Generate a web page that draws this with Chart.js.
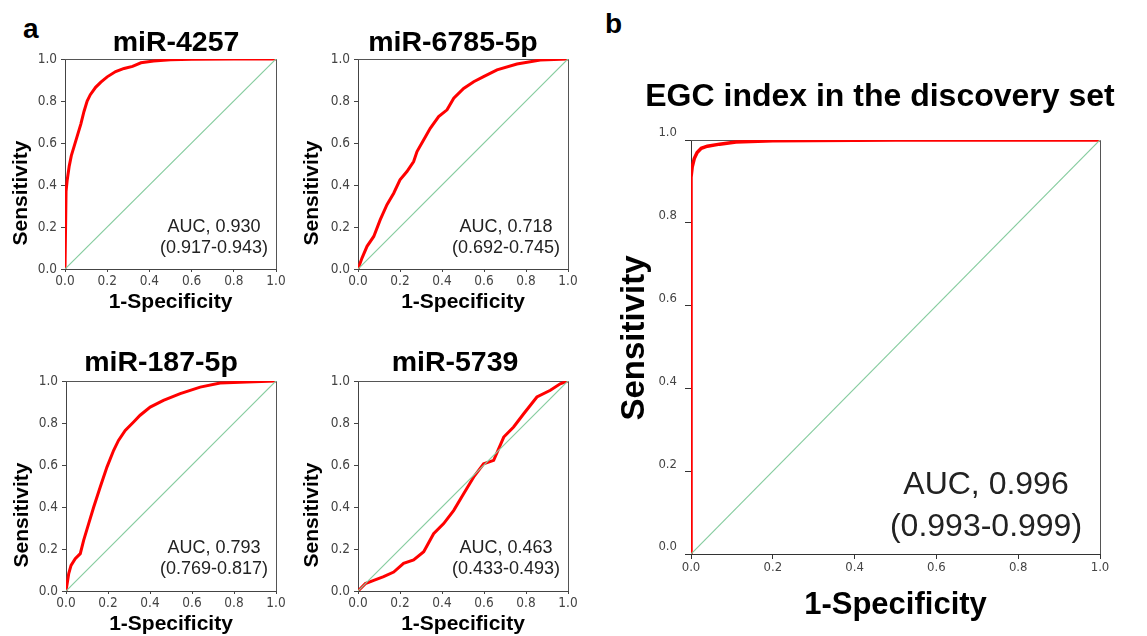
<!DOCTYPE html>
<html>
<head>
<meta charset="utf-8">
<script src="https://cdn.jsdelivr.net/npm/chart.js@4.4.1/dist/chart.umd.min.js"></script>
<style>
  body { margin: 0; background: #fff; width: 1147px; height: 636px; position: relative; overflow: hidden; }
  canvas { position: absolute; }
  .tag { position: absolute; font: bold 28px "Liberation Sans", Arial, sans-serif; color: #000; line-height: 1; }
</style>
</head>
<body>
<div class="tag" style="left:23px;top:15px">a</div>
<div class="tag" style="left:605px;top:10px">b</div>
<canvas id="c4257" width="290" height="318" style="left:0;top:0"></canvas>
<canvas id="c6785" width="290" height="318" style="left:290px;top:0"></canvas>
<canvas id="c187" width="290" height="318" style="left:0;top:318px"></canvas>
<canvas id="c5739" width="290" height="318" style="left:290px;top:318px"></canvas>
<canvas id="cEGC" width="547" height="636" style="left:600px;top:0"></canvas>
<script>
// ROC curves (1-specificity, sensitivity)
const fpr4257 = [0, 0.005, 0.01, 0.02, 0.03, 0.045, 0.06, 0.075, 0.09, 0.105, 0.12, 0.145, 0.17, 0.2, 0.24, 0.28, 0.32, 0.36, 0.42, 0.5, 0.6, 0.8, 1.0];
const tpr4257 = [0, 0.37, 0.42, 0.49, 0.54, 0.59, 0.64, 0.69, 0.75, 0.8, 0.83, 0.865, 0.89, 0.915, 0.94, 0.955, 0.965, 0.982, 0.99, 0.996, 0.999, 1, 1];

const fpr6785 = [0, 0.019, 0.043, 0.075, 0.106, 0.138, 0.17, 0.2, 0.233, 0.265, 0.281, 0.313, 0.344, 0.384, 0.424, 0.456, 0.503, 0.551, 0.598, 0.662, 0.757, 0.868, 1.0];
const tpr6785 = [0, 0.052, 0.108, 0.155, 0.235, 0.306, 0.361, 0.425, 0.464, 0.512, 0.559, 0.615, 0.67, 0.726, 0.758, 0.813, 0.86, 0.892, 0.916, 0.948, 0.976, 0.995, 1.0];

const fpr187 = [0, 0.013, 0.024, 0.044, 0.068, 0.084, 0.108, 0.132, 0.163, 0.195, 0.227, 0.25, 0.282, 0.322, 0.353, 0.401, 0.464, 0.544, 0.639, 0.734, 0.861, 1.0];
const tpr187 = [0, 0.083, 0.122, 0.154, 0.178, 0.241, 0.321, 0.4, 0.495, 0.59, 0.67, 0.717, 0.765, 0.805, 0.837, 0.876, 0.908, 0.94, 0.971, 0.99, 0.995, 1.0];

const fpr5739 = [0, 0.035, 0.075, 0.122, 0.17, 0.217, 0.265, 0.313, 0.36, 0.408, 0.456, 0.503, 0.551, 0.598, 0.646, 0.694, 0.741, 0.789, 0.852, 0.916, 0.963, 1.0];
const tpr5739 = [0, 0.035, 0.051, 0.068, 0.09, 0.132, 0.148, 0.187, 0.273, 0.321, 0.384, 0.463, 0.543, 0.606, 0.622, 0.733, 0.781, 0.844, 0.924, 0.956, 0.987, 1.0];

const fprEGC = [0, 0, 0.003, 0.008, 0.015, 0.025, 0.04, 0.07, 0.11, 0.2, 0.5, 1.0];
const tprEGC = [0, 0.91, 0.935, 0.955, 0.97, 0.98, 0.985, 0.99, 0.995, 0.998, 1, 1];

const refLine = [0, 1];
const axisTicks = ['0.0', '0.2', '0.4', '0.6', '0.8', '1.0'];

const SANS = '"Liberation Sans", Arial, sans-serif';
const NARROW = '"Liberation Sans Narrow", "DejaVu Sans Condensed", "Liberation Sans", sans-serif';

// box lines on top and right side of the plot
const frame = {
  id: 'frame',
  beforeDatasetsDraw(chart) {
    const { ctx, chartArea: a } = chart;
    ctx.save();
    ctx.strokeStyle = '#555';
    ctx.lineWidth = 1;
    ctx.beginPath();
    ctx.moveTo(a.left, a.top + 0.5);
    ctx.lineTo(a.right + 0.5, a.top + 0.5);
    ctx.lineTo(a.right + 0.5, a.bottom);
    ctx.stroke();
    ctx.restore();
  }
};

// panel title, rotated y title and AUC note
const panelText = {
  id: 'panelText',
  afterDraw(chart, args, o) {
    const ctx = chart.ctx;
    ctx.save();
    ctx.textAlign = 'center';
    ctx.textBaseline = 'middle';
    ctx.fillStyle = '#000';
    ctx.font = 'bold ' + o.titleSize + 'px ' + SANS;
    ctx.fillText(o.title, o.titleX, o.titleY);
    ctx.save();
    ctx.translate(o.yTitleX, o.yTitleY);
    ctx.rotate(-Math.PI / 2);
    ctx.font = 'bold ' + o.yTitleSize + 'px ' + SANS;
    ctx.fillText('Sensitivity', 0, 0);
    ctx.restore();
    ctx.fillStyle = '#222';
    ctx.font = o.aucSize + 'px ' + SANS;
    o.auc.forEach((t, i) => ctx.fillText(t, o.aucX, o.aucY[i]));
    ctx.restore();
  }
};

function makeRoc(id, xs, ys, p) {
  const pts = xs.map((x, i) => ({ x: x, y: ys[i] }));
  const diag = refLine.map(v => ({ x: v, y: v }));
  const tickFont = { family: NARROW, size: p.tickSize };
  return new Chart(document.getElementById(id), {
    type: 'line',
    data: {
      datasets: [
        { data: diag, borderColor: '#86cc9f', borderWidth: 1.2, pointRadius: 0, tension: 0 },
        { data: pts, borderColor: '#ff0000', borderWidth: p.lineW, pointRadius: 0, tension: 0 }
      ]
    },
    options: {
      responsive: false,
      animation: false,
      layout: { padding: { left: 0, top: p.top, right: p.right, bottom: 0 } },
      plugins: {
        legend: { display: false },
        tooltip: { enabled: false },
        panelText: p.text
      },
      scales: {
        x: {
          type: 'linear', min: 0, max: 1,
          afterFit: s => { s.height = p.xH; },
          border: { color: p.axisColor, width: 1 },
          grid: { drawOnChartArea: false, tickLength: p.xTick, color: p.axisColor },
          ticks: { stepSize: 0.2, padding: 1, color: '#444', font: tickFont, maxRotation: 0,
                   callback: (v, i) => axisTicks[i] },
          title: { display: true, text: '1-Specificity', color: '#000',
                   font: { family: SANS, size: p.xTitleSize, weight: 'bold', lineHeight: 1 },
                   padding: { top: 0, bottom: p.xTitlePad } }
        },
        y: {
          type: 'linear', min: 0, max: 1,
          afterFit: s => { s.width = p.yW; },
          border: { color: p.axisColor, width: 1 },
          grid: { drawOnChartArea: false, tickLength: p.yTick, color: p.axisColor },
          ticks: { stepSize: 0.2, padding: p.yPad, labelOffset: p.yOff, color: '#444', font: tickFont,
                   callback: (v, i) => axisTicks[i] }
        }
      }
    },
    plugins: [frame, panelText]
  });
}

const small = { top: 59, right: 14, xH: 49, yW: 65, lineW: 3, tickSize: 13.5, xTick: 3, yTick: 4, yPad: 4, yOff: 0,
                xTitleSize: 21, xTitlePad: 5, axisColor: '#444' };

makeRoc('c4257', fpr4257, tpr4257, Object.assign({}, small, {
  text: { title: 'miR-4257', titleSize: 28.5, titleX: 176, titleY: 43, yTitleX: 21, yTitleY: 193, yTitleSize: 21,
          auc: ['AUC, 0.930', '(0.917-0.943)'], aucSize: 18, aucX: 214, aucY: [227, 248] }
}));
makeRoc('c6785', fpr6785, tpr6785, Object.assign({}, small, { right: 12, yW: 68,
  text: { title: 'miR-6785-5p', titleSize: 28.5, titleX: 163, titleY: 43, yTitleX: 22, yTitleY: 193, yTitleSize: 21,
          auc: ['AUC, 0.718', '(0.692-0.745)'], aucSize: 18, aucX: 216, aucY: [227, 248] }
}));
makeRoc('c187', fpr187, tpr187, Object.assign({}, small, { top: 63, xH: 45, yW: 66, xTitlePad: 1,
  text: { title: 'miR-187-5p', titleSize: 28.5, titleX: 161, titleY: 45, yTitleX: 22, yTitleY: 197, yTitleSize: 21,
          auc: ['AUC, 0.793', '(0.769-0.817)'], aucSize: 18, aucX: 214, aucY: [230, 251] }
}));
makeRoc('c5739', fpr5739, tpr5739, Object.assign({}, small, { top: 63, right: 12, xH: 45, yW: 68, xTitlePad: 1,
  text: { title: 'miR-5739', titleSize: 28.5, titleX: 165, titleY: 45, yTitleX: 22, yTitleY: 197, yTitleSize: 21,
          auc: ['AUC, 0.463', '(0.433-0.493)'], aucSize: 18, aucX: 216, aucY: [230, 251] }
}));
makeRoc('cEGC', fprEGC, tprEGC, {
  top: 140, right: 47, xH: 82, yW: 91, lineW: 3.5, tickSize: 13, xTick: 5, yTick: 6, yPad: 8, yOff: -7,
  xTitleSize: 31, xTitlePad: 15, axisColor: '#333',
  text: { title: 'EGC index in the discovery set', titleSize: 32, titleX: 280, titleY: 97,
          yTitleX: 35, yTitleY: 338, yTitleSize: 33,
          auc: ['AUC, 0.996', '(0.993-0.999)'], aucSize: 32, aucX: 386, aucY: [485, 527] }
});
</script>
</body>
</html>
